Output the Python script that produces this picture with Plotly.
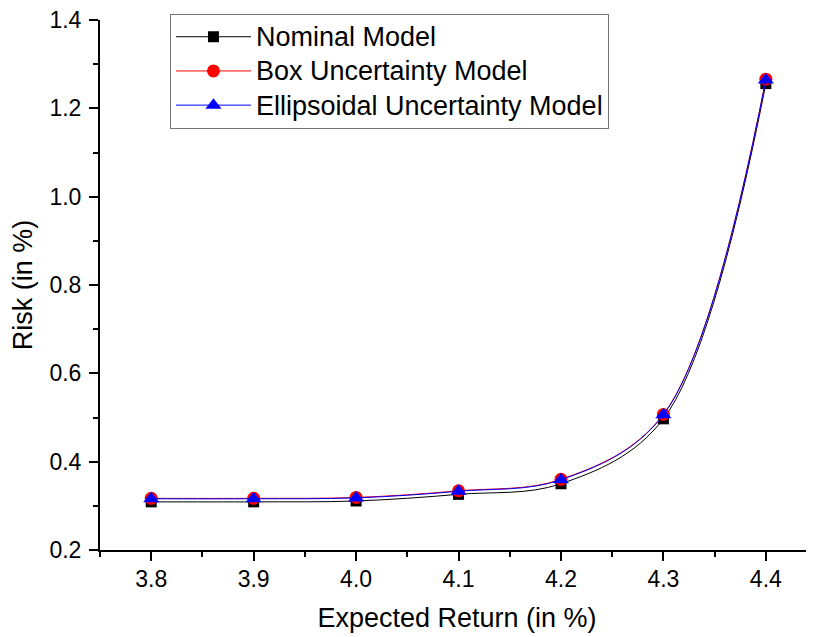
import plotly.graph_objects as go

returns = [3.8, 3.9, 4.0, 4.1, 4.2, 4.3, 4.4]
nominal = [0.309, 0.309, 0.311, 0.326, 0.350, 0.497, 1.256]
box = [0.317, 0.317, 0.319, 0.334, 0.360, 0.507, 1.266]
ellipsoidal = [0.316, 0.316, 0.318, 0.333, 0.359, 0.506, 1.264]

series = [
    ("Nominal Model", nominal, "black", "square", 11),
    ("Box Uncertainty Model", box, "red", "circle", 13),
    ("Ellipsoidal Uncertainty Model", ellipsoidal, "blue", "triangle-up", 14),
]

fig = go.Figure()
for name, vals, col, sym, sz in series:
    fig.add_trace(go.Scatter(
        x=returns, y=vals, mode="lines+markers",
        name='<span style="font-size:27px">' + name + '</span>',
        line=dict(color=col, width=1, shape="spline", smoothing=1.0),
        marker=dict(color=col, symbol=sym, size=sz, line=dict(width=0)),
    ))

# page body has an 8px margin, so the figure is drawn 8px in from the window edge
fig.update_layout(
    width=806, height=629,
    margin=dict(l=92, r=0, t=12, b=87),
    paper_bgcolor="white", plot_bgcolor="white",
    font=dict(family="Liberation Sans, Arial, sans-serif", color="black", size=23),
    showlegend=True,
    legend=dict(
        x=0.098, y=1.012, xanchor="left", yanchor="top",
        bgcolor="white", bordercolor="#777777", borderwidth=1,
        font=dict(size=24), itemwidth=75, tracegroupgap=0,
    ),
    xaxis=dict(
        range=[3.75, 4.447], tickvals=returns,
        ticktext=[f"{v:.1f}" for v in returns],
        showgrid=False, zeroline=False, showline=True, linecolor="black", linewidth=2,
        ticks="outside", ticklen=9, tickwidth=2, tickcolor="black", ticklabelstandoff=-2,
        minor=dict(ticks="outside", ticklen=5, tickwidth=2, tickcolor="black", dtick=0.05, tick0=3.75),
        title=dict(text="Expected Return (in %)", font=dict(size=27), standoff=18),
        automargin=False, ticklabeloverflow="allow",
    ),
    yaxis=dict(
        range=[0.2, 1.4], dtick=0.2, tickformat=".1f",
        showgrid=False, zeroline=False, showline=True, linecolor="black", linewidth=2,
        ticks="outside", ticklen=9, tickwidth=2, tickcolor="black", ticklabelstandoff=3,
        minor=dict(ticks="outside", ticklen=5, tickwidth=2, tickcolor="black", dtick=0.1),
        title=dict(text="Risk (in %)", font=dict(size=27), standoff=12),
        automargin=False, ticklabeloverflow="allow",
    ),
)

fig.write_html("out.html")
